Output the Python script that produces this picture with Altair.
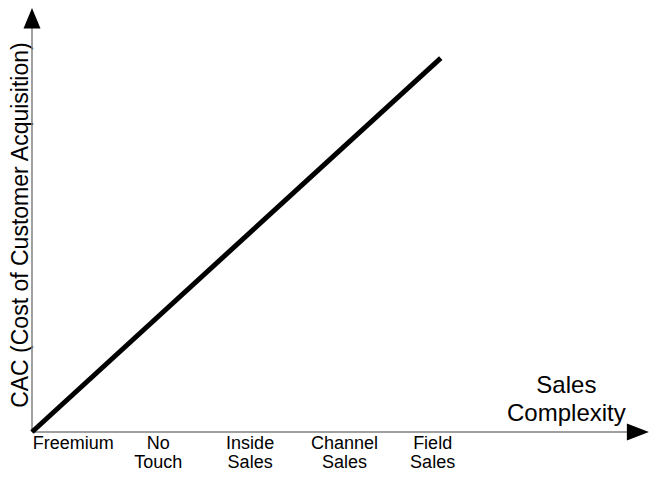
import altair as alt
import pandas as pd

# ---- data ----
categories = ["Freemium", "No\nTouch", "Inside\nSales", "Channel\nSales", "Field\nSales"]
category_x = [6.6, 20.2, 34.9, 50.0, 64.1]      # complexity units (axis 0..100)
line_x = [0, 65.4]
line_y = [0, 88.2]                               # CAC units (axis 0..100)
x_title = "Sales\nComplexity"
x_title_pos = [85.5, 9.2]
y_title = "CAC (Cost of Customer Acquisition)"
y_title_pos = [-0.6, 48.8]
x_arrow_tip = 98.7
y_arrow_tip = 100
label_y = -4.0

FONT = "Liberation Sans"
AXIS_GRAY = "#808080"

xs = alt.Scale(domain=[0, 100], range=[24, 649])
ys = alt.Scale(domain=[0, 100], range=[424, 0])

X = lambda f: alt.X(f, type="quantitative", scale=xs, axis=None)
Y = lambda f: alt.Y(f, type="quantitative", scale=ys, axis=None)

# axis lines
axes_df = pd.DataFrame({
    "x": [0, 0], "x2": [x_arrow_tip - 2, 0],
    "y": [0, 0], "y2": [0, y_arrow_tip - 3],
})
axes = alt.Chart(axes_df).mark_rule(color=AXIS_GRAY, strokeWidth=1.5).encode(
    x=X("x"), x2="x2", y=Y("y"), y2="y2"
)

# arrowheads
arrow_x = alt.Chart(pd.DataFrame({"x": [x_arrow_tip], "y": [0]})).mark_point(
    shape="M0,0L-4.4,-1.7L-4.4,1.7Z", size=100, filled=True, color="black",
    opacity=1, strokeWidth=0
).encode(x=X("x"), y=Y("y"))
arrow_y = alt.Chart(pd.DataFrame({"x": [0], "y": [y_arrow_tip]})).mark_point(
    shape="M0,0L-1.7,4.1L1.7,4.1Z", size=100, filled=True, color="black",
    opacity=1, strokeWidth=0
).encode(x=X("x"), y=Y("y"))

# the CAC line
line = alt.Chart(pd.DataFrame({"x": line_x, "y": line_y})).mark_line(
    color="black", strokeWidth=5, strokeCap="butt"
).encode(x=X("x"), y=Y("y"))

# category labels
labels_df = pd.DataFrame({"label": categories, "x": category_x, "y": [label_y] * len(categories)})
labels = alt.Chart(labels_df).mark_text(
    font=FONT, fontSize=18, lineBreak="\n", lineHeight=19,
    align="center", baseline="alphabetic", color="black"
).encode(x=X("x"), y=Y("y"), text="label:N")

# x title
xt = alt.Chart(pd.DataFrame({"t": [x_title], "x": [x_title_pos[0]], "y": [x_title_pos[1]]})).mark_text(
    font=FONT, fontSize=24, lineBreak="\n", lineHeight=28,
    align="center", baseline="alphabetic", color="black"
).encode(x=X("x"), y=Y("y"), text="t:N")

# y title
yt = alt.Chart(pd.DataFrame({"t": [y_title], "x": [y_title_pos[0]], "y": [y_title_pos[1]]})).mark_text(
    font=FONT, fontSize=23, angle=270,
    align="center", baseline="alphabetic", color="black"
).encode(x=X("x"), y=Y("y"), text="t:N")

chart = alt.layer(yt, axes, line, arrow_x, arrow_y, labels, xt).properties(
    width=642, height=464, autosize="none", padding=0
).configure_view(strokeWidth=0)

chart.save("out.html", embed_options={"renderer": "svg", "actions": False})
